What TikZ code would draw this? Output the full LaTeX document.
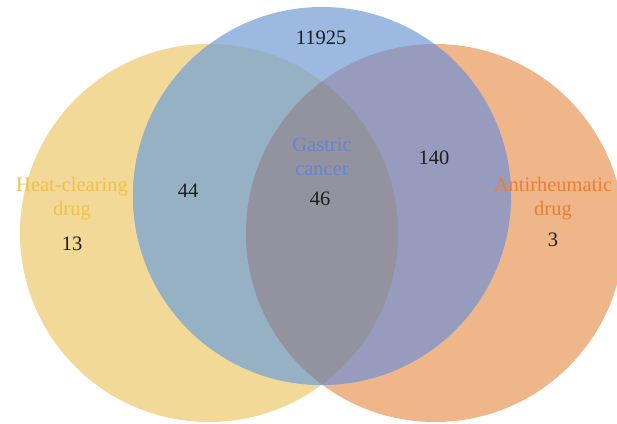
\documentclass[tikz,border=0pt]{standalone}
\usepackage{fontspec}
\setmainfont{Liberation Serif}
\definecolor{cy}{RGB}{243,217,152}
\definecolor{cb}{RGB}{155,185,225}
\definecolor{co}{RGB}{239,182,138}
\definecolor{cyb}{RGB}{151,177,196}
\definecolor{cbo}{RGB}{151,155,190}
\definecolor{cybo}{RGB}{146,147,158}
\definecolor{cyo}{RGB}{220,170,120}
\definecolor{ty}{RGB}{240,192,76}
\definecolor{tb}{RGB}{100,132,212}
\definecolor{to}{RGB}{232,128,52}
\definecolor{tn}{RGB}{30,30,30}
\begin{document}
\begin{tikzpicture}[x=1pt,y=-1pt,
  lbl/.style={font=\fontsize{20.5}{24}\selectfont, inner sep=0pt, align=center},
  num/.style={font=\fontsize{20.5}{24}\selectfont, inner sep=0pt, text=tn}]
\useasboundingbox (0,0) rectangle (617,423);
\def\Y{(209,233) circle (189)}
\def\B{(322,196) circle (189)}
\def\O{(435,233) circle (189)}
\begin{scope}
\clip (0,0) rectangle (617,423);
\fill[cy] \Y;
\fill[co] \O;
\begin{scope}\clip \Y; \fill[cyo] \O; \end{scope}
\fill[cb] \B;
\begin{scope}\clip \B; \fill[cyb] \Y; \fill[cbo] \O;
  \begin{scope}\clip \Y; \fill[cybo] \O; \end{scope}
\end{scope}
\end{scope}
\node[num] (n1) at (321,38) {11925};
\node[lbl, text=ty] (hc) at (72,199) {Heat-clearing\\drug};
\node[num] (n2) at (72,244) {13};
\node[num] (n3) at (188,191) {44};
\node[lbl, text=tb] (gc) at (322,157) {Gastric\\cancer};
\node[num] (n4) at (320,199) {46};
\node[num] (n5) at (434,158) {140};
\node[lbl, text=to] (ad) at (553,199) {Antirheumatic\\drug};
\node[num] (n6) at (553,240) {3};
\end{tikzpicture}
\end{document}
